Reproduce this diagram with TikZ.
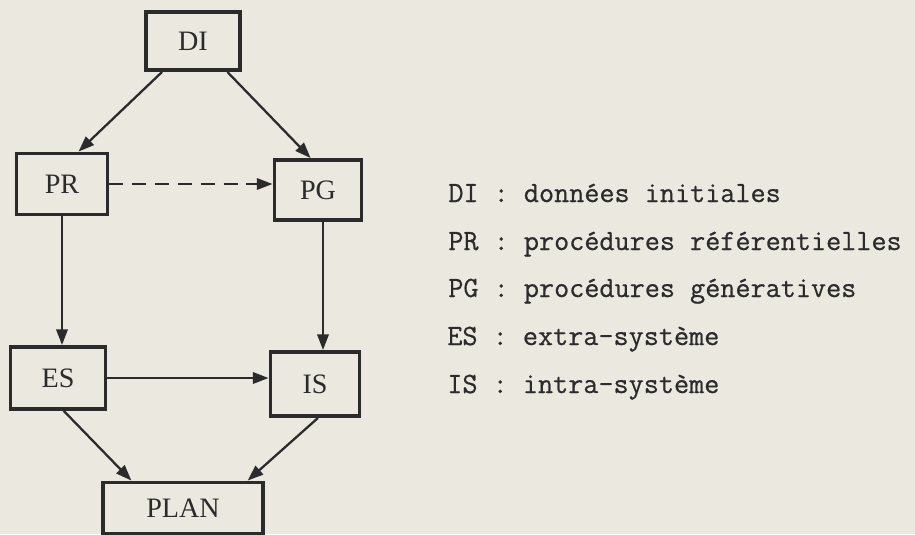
\documentclass[tikz,border=0pt]{standalone}
\usepackage{fontspec}
\setmainfont{Liberation Serif}
\newfontfamily\typew[FakeBold=0.6]{Latin Modern Mono}
\usepackage{xcolor}
\usepackage{tikz}
\usetikzlibrary{arrows.meta,positioning,calc}

\definecolor{paper}{HTML}{EAE8DF}
\definecolor{ink}{HTML}{2B2B2B}

\tikzset{
  box/.style={draw=ink,line width=2.2pt,fill=paper,text=ink,inner sep=0pt,
    font=\fontsize{16}{16}\selectfont},
  link/.style={draw=ink,line width=1.3pt,-{Triangle[length=9pt,width=6.5pt]}},
  legend/.style={anchor=base west,inner sep=0pt,text=ink,
    font=\typew\fontsize{16.7}{16.7}\selectfont}
}

\begin{document}
\begin{tikzpicture}[x=0.02cm,y=-0.02cm]
  \fill[paper] (0,0) rectangle (915,534);
  \useasboundingbox (0,0) rectangle (915,534);
  % boxes
  \node[box,minimum width=1.88cm,minimum height=1.16cm] (DI) at (193,41) {DI};
  \node[box,minimum width=1.82cm,minimum height=1.22cm] (PR) at (62,184) {PR};
  \node[box,minimum width=1.74cm,minimum height=1.20cm] (PG) at (318,190) {PG};
  \node[box,minimum width=1.90cm,minimum height=1.24cm] (ES) at (58,378) {ES};
  \node[box,minimum width=1.78cm,minimum height=1.28cm] (IS) at (315,384) {IS};
  \node[box,minimum width=3.20cm,minimum height=1.02cm] (PLAN) at (183,508) {PLAN};
  % connectors
  \draw[link] (DI.-135) -- (PR.63);
  \draw[link] (DI.-42) -- (PG.103);
  \draw[link,dash pattern=on 8pt off 5pt] (PR.east) -- (PR.east -| PG.west);
  \draw[link] (PR.south) -- (PR.south |- ES.north);
  \draw[link] ([xshift=0.1cm]PG.south) -- ([xshift=0.1cm]PG.south |- IS.north);
  \draw[link] (ES.east) -- (ES.east -| IS.west);
  \draw[link] (ES.-80) -- (PLAN.152);
  \draw[link] (IS.-85) -- (PLAN.23);
  % legend
  \node[legend] (lDI) at (448,202) {DI : données initiales};
  \node[legend] (lPR) at (448,250) {PR : procédures référentielles};
  \node[legend] (lPG) at (448,297) {PG : procédures génératives};
  \node[legend] (lES) at (447,345) {ES : extra-système};
  \node[legend] (lIS) at (447,393) {IS : intra-système};
\end{tikzpicture}
\end{document}
